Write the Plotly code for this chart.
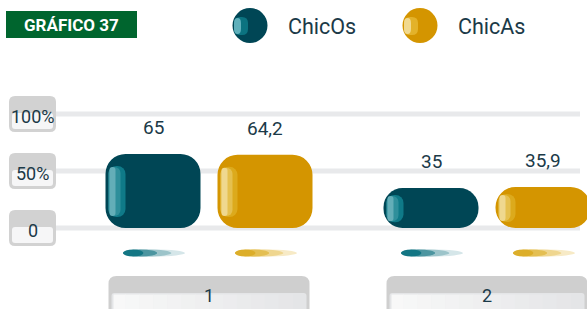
import plotly.graph_objects as go

# ---------------- data ----------------
categories = ["1", "2"]
series_names = ["ChicOs", "ChicAs"]
chicos = [65, 35]
chicas = [64.2, 35.9]
ytick_vals = [0, 50, 100]
ytick_text = ["0", "50%", "100%"]
title_text = "GRÁFICO 37"

# ---------------- style / geometry ----------------
W, H = 587, 309
PXU_X = 278.0          # px per x unit
X1_PX = 209.0          # pixel of x=1
ZERO_PX = 228.0        # pixel of y=0
PXU_Y = 1.14           # px per y unit

xr = [1 - X1_PX / PXU_X, 1 + (W - X1_PX) / PXU_X]
yr = [(ZERO_PX - H) / PXU_Y, ZERO_PX / PXU_Y]

def px_x(p):   # pixel width -> x units
    return p / PXU_X

def px_y(p):   # pixel height -> y units
    return p / PXU_Y

TEAL = "#004655"
ORANGE = "#d49500"
TXT = "#1b3a48"
FONT = "Roboto"

bar_w = px_x(95)
bar_off = px_x(56)
colors = [TEAL, ORANGE]
# highlight layers: (left inset px, width px, color, radius)
hi_layers = [
    [(3, 17, "#0f7a88", 8), (3, 12, "#2f8f9b", 7), (4, 6, "#64aeb8", 3)],
    [(3, 17, "#dcaa1c", 8), (3, 12, "#e5c04f", 7), (4, 6, "#efd88f", 3)],
]
series = [chicos, chicas]
xs = [i + 1 for i in range(len(categories))]

fig = go.Figure()

for s, vals in enumerate(series):
    center_shift = -bar_off if s == 0 else bar_off
    left = center_shift - bar_w / 2
    fig.add_trace(go.Bar(
        x=xs, y=vals, base=[0] * len(vals),
        offset=left, width=bar_w, name=series_names[s],
        marker=dict(color=colors[s], cornerradius=20, line=dict(width=0)),
        showlegend=False, hoverinfo="skip"))
    insets = [min(12.0, 0.17 * v * PXU_Y) for v in vals]
    for (li, wpx, col, rad) in hi_layers[s]:
        extra = 1 if wpx < 17 else 0
        tops = [v - px_y(i + extra) for v, i in zip(vals, insets)]
        bots = [px_y(i + extra) - px_y(1) for i in insets]
        fig.add_trace(go.Bar(
            x=xs, y=[t - b for t, b in zip(tops, bots)], base=bots,
            offset=left + px_x(li), width=px_x(wpx),
            marker=dict(color=col, cornerradius=rad, line=dict(width=0)),
            showlegend=False, hoverinfo="skip"))

shapes = []
annotations = []

# gridlines
for tv in ytick_vals:
    shapes.append(dict(type="line", xref="paper", yref="y",
                       x0=56 / W, x1=580 / W, y0=tv, y1=tv,
                       line=dict(color="#e8e9eb", width=5), layer="below"))

def rrect_path(x0, x1, y0, y1, rx, ry):
    # y0 bottom, y1 top (data units, y increases up)
    return (f"M {x0+rx},{y1} L {x1-rx},{y1} Q {x1},{y1} {x1},{y1-ry} "
            f"L {x1},{y0+ry} Q {x1},{y0} {x1-rx},{y0} L {x0+rx},{y0} "
            f"Q {x0},{y0} {x0},{y0+ry} L {x0},{y1-ry} Q {x0},{y1} {x0+rx},{y1} Z")

def lerp_col(c1, c2, t):
    a = [int(c1[i:i + 2], 16) for i in (1, 3, 5)]
    b = [int(c2[i:i + 2], 16) for i in (1, 3, 5)]
    return "#" + "".join(f"{round(a[k] + (b[k] - a[k]) * t):02x}" for k in range(3))

# y tick boxes
for tv, tt in zip(ytick_vals, ytick_text):
    shapes.append(dict(type="path", xref="paper", yref="y",
                       path=rrect_path(9 / W, 56 / W, tv - px_y(18), tv + px_y(18), 6 / W, px_y(6)),
                       fillcolor="#d2d2d2", line=dict(width=0), layer="above"))
    shapes.append(dict(type="path", xref="paper", yref="y",
                       path=rrect_path(12 / W, 53 / W, tv - px_y(15), tv + px_y(1), 3 / W, px_y(3)),
                       fillcolor="#f6f6f7", line=dict(width=0), layer="above"))
    annotations.append(dict(xref="paper", yref="y", x=32.5 / W, y=tv - px_y(2), text=tt,
                            showarrow=False, xanchor="center", yanchor="middle",
                            font=dict(family=FONT, size=18, color=TXT)))

# category boxes
for xc, cat in zip(xs, categories):
    half = px_x(100.5)
    top_y = (ZERO_PX - 276) / PXU_Y
    bot_y = (ZERO_PX - 330) / PXU_Y
    shapes.append(dict(type="path", xref="x", yref="y",
                       path=rrect_path(xc - half, xc + half, bot_y, top_y, px_x(8), px_y(8)),
                       fillcolor="#cfcfcf", line=dict(width=0)))
    in_l = xc - half + px_x(3)
    in_r = xc + half - px_x(3)
    in_top = top_y - px_y(17)
    shapes.append(dict(type="path", xref="x", yref="y",
                       path=rrect_path(in_l, in_r, bot_y, in_top, px_x(3), px_y(3)),
                       fillcolor="#e4e5e7", line=dict(width=0)))
    n = 14
    for k in range(n - 1):
        x0 = in_l + (in_r - in_l) * k / n
        x1 = in_l + (in_r - in_l) * (k + 1) / n
        if k == 0:
            x0 = in_l + px_x(2)
        shapes.append(dict(type="rect", xref="x", yref="y",
                           x0=x0, x1=x1 + px_x(0.5), y0=bot_y, y1=in_top - px_y(1.5),
                           fillcolor=lerp_col("#f8f8f8", "#e4e5e7", k / (n - 1)),
                           line=dict(width=0)))
    annotations.append(dict(xref="x", yref="y", x=xc, y=(ZERO_PX - 295) / PXU_Y, text=cat,
                            showarrow=False, xanchor="center", yanchor="middle",
                            font=dict(family=FONT, size=18, color=TXT)))

# shadows under bars
shadow_cols = [["#d5e6e9", "#9cc4ca", "#4c95a0", "#137684"],
               ["#f7eac6", "#efd68f", "#e4bf52", "#dcae2a"]]
sy = (ZERO_PX - 253) / PXU_Y
for s in range(2):
    center_shift = -bar_off if s == 0 else bar_off
    for xc in xs:
        cx = xc + center_shift
        left = cx - px_x(30)
        for k, frac in enumerate([1.0, 0.78, 0.55, 0.33]):
            shapes.append(dict(type="circle", xref="x", yref="y",
                               x0=left, x1=left + px_x(62) * frac,
                               y0=sy - px_y(3.5), y1=sy + px_y(3.5),
                               fillcolor=shadow_cols[s][k], line=dict(width=0)))

# value labels
for s, vals in enumerate(series):
    center_shift = -bar_off if s == 0 else bar_off
    for xc, v in zip(xs, vals):
        annotations.append(dict(xref="x", yref="y", x=xc + center_shift, y=v,
                                text=f"{v:g}".replace(".", ","), showarrow=False,
                                xanchor="center", yanchor="bottom", yshift=13,
                                font=dict(family=FONT, size=19, color=TXT)))

# title box
shapes.append(dict(type="rect", xref="paper", yref="paper",
                   x0=6 / W, x1=137 / W, y0=1 - 38 / H, y1=1 - 11 / H,
                   fillcolor="#00652e", line=dict(width=0)))
annotations.append(dict(xref="paper", yref="paper", x=71.5 / W, y=1 - 25 / H,
                        text=f"<b>{title_text}</b>", showarrow=False,
                        xanchor="center", yanchor="middle",
                        font=dict(family=FONT, size=17, color="white")))

# legend
leg_cx = [250, 420]
leg_tx = [286, 456]
leg_hi = [["#0b7380", "#5fb0bb"], ["#e3b22a", "#f1d98f"]]
for s in range(2):
    cx = leg_cx[s]
    shapes.append(dict(type="circle", xref="paper", yref="paper",
                       x0=(cx - 17.5) / W, x1=(cx + 17.5) / W, y0=1 - 43 / H, y1=1 - 8 / H,
                       fillcolor=colors[s], line=dict(width=0)))
    shapes.append(dict(type="path", xref="paper", yref="paper",
                       path=rrect_path((cx - 16) / W, (cx - 2) / W, 1 - 35 / H, 1 - 17 / H,
                                       6 / W, 6 / H),
                       fillcolor=leg_hi[s][0], line=dict(width=0)))
    shapes.append(dict(type="path", xref="paper", yref="paper",
                       path=rrect_path((cx - 16) / W, (cx - 9) / W, 1 - 34 / H, 1 - 18 / H,
                                       3.5 / W, 5 / H),
                       fillcolor=leg_hi[s][1], line=dict(width=0)))
    annotations.append(dict(xref="paper", yref="paper", x=leg_tx[s] / W, y=1 - 26 / H,
                            text=series_names[s], showarrow=False,
                            xanchor="left", yanchor="middle",
                            font=dict(family=FONT, size=21.5, color=TXT)))

fig.update_layout(
    width=W, height=H, margin=dict(l=0, r=0, t=0, b=0),
    paper_bgcolor="white", plot_bgcolor="white",
    barmode="overlay", showlegend=False,
    xaxis=dict(range=xr, visible=False, fixedrange=True),
    yaxis=dict(range=yr, visible=False, fixedrange=True),
    shapes=shapes, annotations=annotations,
)

fig.write_html("out.html", config={"displayModeBar": False},
               post_script="document.body.style.margin='0';document.body.style.padding='0';"
                           "document.body.style.overflow='hidden';")
